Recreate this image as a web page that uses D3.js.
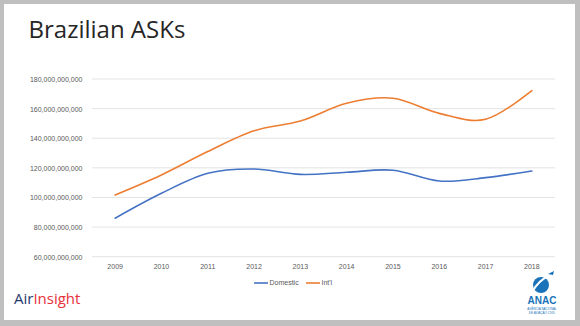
<!DOCTYPE html>
<html><head><meta charset="utf-8">
<script src="https://cdn.jsdelivr.net/npm/d3@7"></script>
<style>html,body{margin:0;padding:0;background:#fff;}svg{display:block;}</style>
</head><body>
<script>
const years = ["2009","2010","2011","2012","2013","2014","2015","2016","2017","2018"];
const domestic = [86.0e9, 102.8e9, 116.3e9, 119.2e9, 115.6e9, 117.0e9, 118.4e9, 111.1e9, 113.4e9, 117.9e9];
const intl = [101.7e9, 115.2e9, 131.0e9, 145.0e9, 151.6e9, 163.6e9, 167.0e9, 156.8e9, 152.8e9, 172.1e9];
const yTicks = [60e9, 80e9, 100e9, 120e9, 140e9, 160e9, 180e9];
const seriesNames = ["Domestic", "Int'l"];
const colors = ["#4472C4", "#ED7D31"];

const W = 580, H = 326;
const svg = d3.select("body").append("svg").attr("width", W).attr("height", H);

// slide frame
svg.append("rect").attr("x",0).attr("y",0).attr("width",W).attr("height",H).attr("fill","#bfbfbf");
svg.append("rect").attr("x",4).attr("y",4).attr("width",571).attr("height",316).attr("fill","#fff");

// title
svg.append("text").attr("x",28.5).attr("y",38).attr("font-family","'Open Sans', 'Noto Sans', sans-serif")
  .attr("font-size",24).attr("fill","#262626").text("Brazilian ASKs");

const x = d3.scaleBand().domain(years).range([92, 555]);
const y = d3.scaleLinear().domain([60e9, 180e9]).range([256.7, 79]);

const fmt = d3.format(",.0f");
const font = "'Liberation Sans', Arial, sans-serif";

// gridlines
svg.append("g").selectAll("line").data(yTicks).join("line")
  .attr("x1", x.range()[0]).attr("x2", x.range()[1])
  .attr("y1", d => y(d)).attr("y2", d => y(d))
  .attr("stroke", "#e3e3e3").attr("stroke-width", 1);

// y axis labels
const yAxis = d3.axisLeft(y).tickValues(yTicks).tickFormat(fmt).tickSize(0).tickPadding(0);
const gy = svg.append("g").attr("transform","translate(82.5,0)").call(yAxis);
gy.select(".domain").remove();
gy.selectAll("text").attr("font-family", font).attr("font-size", 7).attr("fill", "#595959").attr("dy","0.35em");

// x axis labels
const xAxis = d3.axisBottom(x).tickSize(0).tickPadding(0);
const gx = svg.append("g").attr("transform","translate(0,264)").call(xAxis);
gx.select(".domain").remove();
gx.selectAll("text").attr("font-family", font).attr("font-size", 7).attr("fill", "#595959").attr("dy","0.71em");

// lines
const line = d3.line().x((d,i) => x(years[i]) + x.bandwidth()/2).y(d => y(d)).curve(d3.curveCatmullRom.alpha(0));
[domestic, intl].forEach((s, k) => {
  svg.append("path").attr("d", line(s)).attr("fill","none").attr("stroke", colors[k]).attr("stroke-width", 1.6).attr("stroke-linecap","round");
});

// legend
const legX = [254, 306];
seriesNames.forEach((n, k) => {
  const g = svg.append("g").attr("transform", `translate(${legX[k]},283)`);
  g.append("line").attr("x1",0).attr("x2",14).attr("y1",0).attr("y2",0).attr("stroke",colors[k]).attr("stroke-width",1.6);
  g.append("text").attr("x",15.5).attr("y",0).attr("dy","0.35em").attr("font-family",font).attr("font-size",7).attr("fill","#595959").text(n);
});

// AirInsight logo
const ai = svg.append("text").attr("x",14).attr("y",304).attr("font-family","'Open Sans', 'Noto Sans', sans-serif").attr("font-size",15);
ai.append("tspan").attr("fill","#1f3a6e").text("Air");
ai.append("tspan").attr("fill","#e8303a").text("Insight");

// ANAC logo
const an = svg.append("g");
an.append("circle").attr("cx",541).attr("cy",285).attr("r",8).attr("fill","#1a73b8");
an.append("path").attr("d","M532,292 Q539,280 550,275").attr("fill","none").attr("stroke","#fff").attr("stroke-width",2);
an.append("path").attr("d","M548,274 l6,-3 l-1,4 z").attr("fill","#1a73b8");
an.append("text").attr("x",542).attr("y",304).attr("text-anchor","middle").attr("font-family","'Liberation Sans', Arial, sans-serif")
  .attr("font-weight","bold").attr("font-size",10).attr("fill","#1a73b8").text("ANAC");
an.append("text").attr("x",542).attr("y",309.5).attr("text-anchor","middle").attr("font-family",font).attr("font-size",3).attr("fill","#1a73b8").text("AGÊNCIA NACIONAL");
an.append("text").attr("x",542).attr("y",313.5).attr("text-anchor","middle").attr("font-family",font).attr("font-size",3).attr("fill","#1a73b8").text("DE AVIAÇÃO CIVIL");
</script>
</body></html>
